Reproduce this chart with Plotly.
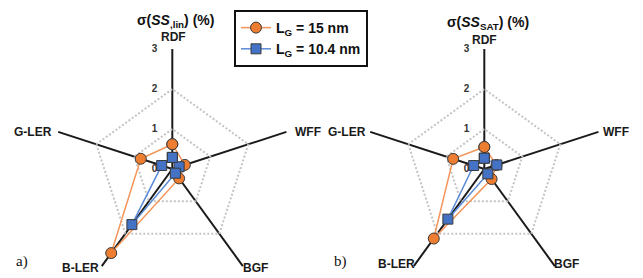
import plotly.graph_objects as go

categories = ["RDF", "WFF", "BGF", "B-LER", "G-LER"]
radial_ticks = [0, 1, 2, 3]

lin_lg15 = [0.62, 0.33, 0.29, 2.60, 0.83]
lin_lg104 = [0.29, 0.18, 0.13, 1.72, 0.28]
sat_lg15 = [0.55, 0.32, 0.31, 2.15, 0.82]
sat_lg104 = [0.27, 0.33, 0.15, 1.55, 0.28]

series_names = ["L<sub>G</sub> = 15 nm", "L<sub>G</sub> = 10.4 nm"]
titles = ["σ(<i>SS</i><sub>,lin</sub>) (%)",
          "σ(<i>SS</i><sub>SAT</sub>) (%)"]
panel_labels = ["a)", "b)"]

# page body has an 8px margin; design in page pixels and shift
OFF = 8
W, H = 635, 282
ORANGE = "#ED7D31"
ORANGE_LINE = "#F4955A"
BLUE = "#4472C4"
BLUE_LINE = "#5B8BD6"
EDGE = "#3A3A3A"
FONT = "Liberation Sans, Arial, sans-serif"


def closed(v):
    return list(v) + [v[0]]


def px(x):
    return (x - OFF) / W


def py(y):
    return 1 - (y - OFF) / H


theta = closed(categories)
fig = go.Figure()

panels = [("polar", lin_lg15, lin_lg104), ("polar2", sat_lg15, sat_lg104)]
for i, (sub, a, b) in enumerate(panels):
    fig.add_trace(go.Scatterpolar(
        r=closed(a), theta=theta, mode="lines+markers", subplot=sub,
        name=series_names[0], showlegend=(i == 0),
        line=dict(color=ORANGE_LINE, width=1.5),
        marker=dict(symbol="circle", size=11, color=ORANGE,
                    line=dict(color=EDGE, width=1)),
    ))
    fig.add_trace(go.Scatterpolar(
        r=closed(b), theta=theta, mode="lines+markers", subplot=sub,
        name=series_names[1], showlegend=(i == 0),
        line=dict(color=BLUE_LINE, width=1.5),
        marker=dict(symbol="square", size=10, color=BLUE,
                    line=dict(color=EDGE, width=1)),
    ))

R = 120
CY = 169  # page pixels


def polar_layout(cx):
    return dict(
        domain=dict(x=[px(cx - R), px(cx + R)],
                    y=[py(CY + R), py(CY - R)]),
        bgcolor="white",
        gridshape="linear",
        angularaxis=dict(
            type="category", categoryarray=categories,
            direction="clockwise", rotation=90,
            showline=False, ticks="", showticklabels=False,
            showgrid=True, gridcolor="#1a1a1a", gridwidth=2,
        ),
        radialaxis=dict(
            range=[0, 3.002], tickvals=radial_ticks, angle=90, tickangle=90,
            side="counterclockwise", showline=False,
            ticks="outside", ticklen=11, tickcolor="rgba(0,0,0,0)",
            showgrid=True, gridcolor="#C4C4C4", gridwidth=2, griddash="2px,2px",
            tickfont=dict(family=FONT, size=10, color="#333333", weight="bold"),
        ),
    )


fig.update_layout(
    width=W, height=H,
    margin=dict(l=0, r=0, t=0, b=0),
    paper_bgcolor="white",
    polar=polar_layout(172.3),
    polar2=polar_layout(484.3),
    showlegend=True,
    legend=dict(
        x=px(234), y=py(10), xanchor="left", yanchor="top",
        bordercolor="#111111", borderwidth=2, bgcolor="white",
        tracegroupgap=0,
        font=dict(family=FONT, size=14, color="#111111", weight="bold"),
    ),
)

for cx, ty, t in [(175, 21, titles[0]), (488, 23.5, titles[1])]:
    fig.add_annotation(x=px(cx), y=py(ty), xref="paper", yref="paper",
                       text=t, showarrow=False, xanchor="center", yanchor="middle",
                       font=dict(family=FONT, size=14, color="#111111", weight="bold"))

# category labels placed around each radar (page pixels: x, y, anchor)
label_spots = [
    [(173.3, 36.7, "center"), (292.5, 132, "left"), (255.5, 268, "center"),
     (80.5, 268, "center"), (53.5, 132, "right")],
    [(484.3, 40, "center"), (601, 132, "left"), (566, 264, "center"),
     (396, 264, "center"), (368, 131.7, "right")],
]
for spots in label_spots:
    for name, (lx, ly, anc) in zip(categories, spots):
        fig.add_annotation(x=px(lx), y=py(ly), xref="paper", yref="paper",
                           text=name, showarrow=False, xanchor=anc, yanchor="middle",
                           font=dict(family=FONT, size=12, color="#1a1a1a", weight="bold"))

for x0, lab in [(14, panel_labels[0]), (332, panel_labels[1])]:
    fig.add_annotation(x=px(x0), y=py(261), xref="paper", yref="paper",
                       text=lab, showarrow=False, xanchor="left", yanchor="middle",
                       font=dict(family="Liberation Serif, Times New Roman, serif",
                                 size=15, color="#111111"))

fig.write_html("out.html")
